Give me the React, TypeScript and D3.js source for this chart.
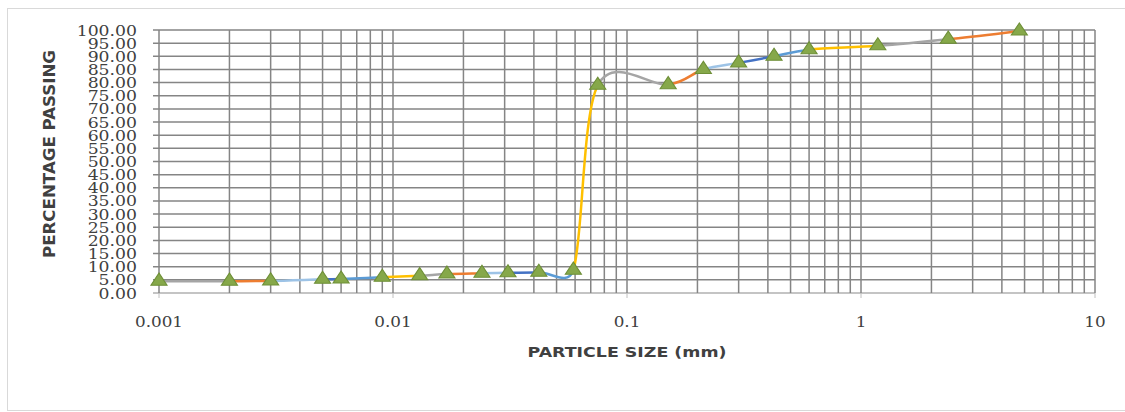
import React from "react";
import * as d3 from "d3";

const sizes = [0.001, 0.002, 0.003, 0.005, 0.006, 0.009, 0.013, 0.017, 0.024, 0.031, 0.042, 0.059, 0.075, 0.15, 0.212, 0.3, 0.425, 0.6, 1.18, 2.36, 4.75];
const passing = [4.5, 4.5, 4.6, 5.2, 5.3, 6.0, 6.6, 7.2, 7.5, 7.7, 7.9, 8.7, 79.0, 79.2, 85.0, 87.5, 90.0, 92.5, 94.0, 96.5, 99.6];
const yTicks = d3.range(0, 101, 5);
const xLabels = [0.001, 0.01, 0.1, 1, 10];
const palette = ["#ED7D31", "#A5A5A5", "#FFC000", "#5B9BD5", "#4472C4", "#9DC3E6"];

const W = 1125;
const H = 412;

type P = [number, number];

// Excel-like smoothed segment: cardinal tangents (1/6), limited to half the segment length
function smoothSegments(p: P[]): string[] {
  const n = p.length;
  const segs: string[] = [];
  const tangent = (i: number): P => {
    const a = p[Math.max(0, i - 1)];
    const b = p[Math.min(n - 1, i + 1)];
    return [(b[0] - a[0]) / 6, (b[1] - a[1]) / 6];
  };
  const limit = (t: P, len: number): P => {
    const l = Math.hypot(t[0], t[1]);
    const max = len / 2;
    if (l <= max || l === 0) return t;
    return [(t[0] * max) / l, (t[1] * max) / l];
  };
  for (let i = 0; i < n - 1; i++) {
    const a = p[i];
    const b = p[i + 1];
    const len = Math.hypot(b[0] - a[0], b[1] - a[1]);
    const t1 = limit(tangent(i), len);
    const t2 = limit(tangent(i + 1), len);
    const path = d3.path();
    path.moveTo(a[0], a[1]);
    path.bezierCurveTo(a[0] + t1[0], a[1] + t1[1], b[0] - t2[0], b[1] - t2[1], b[0], b[1]);
    segs.push(path.toString());
  }
  return segs;
}

export default function App() {
  const x = d3.scaleLog().domain([0.001, 10]).range([159, 1095]);
  const y = d3.scaleLinear().domain([0, 100]).range([293, 30]);
  const pix: P[] = sizes.map((s, i) => [x(s), y(passing[i])]);
  const segs = smoothSegments(pix);

  const vGrid: number[] = [];
  for (let e = -3; e < 1; e++) {
    for (let m = 1; m <= 9; m++) vGrid.push(m * Math.pow(10, e));
  }
  vGrid.push(10);

  const tri = d3.symbol().type(d3.symbolTriangle).size(85)() || "";
  const n = sizes.length;
  const fmt = d3.format(".2f");
  const gridColor = "#858585";
  const textColor = "#404040";

  return (
    <svg width={W} height={H} style={{ position: "absolute", left: 0, top: 0, display: "block", background: "#fff" }}>
      <rect x={7.5} y={8.5} width={1130} height={402} fill="#fff" stroke="#d9d9d9" />
      {yTicks.map((t) => (
        <line key={`h${t}`} x1={153} x2={x.range()[1]} y1={y(t)} y2={y(t)} stroke={t === 0 ? "#b0b0b0" : gridColor} strokeWidth={1.5} />
      ))}
      {vGrid.map((v, i) => (
        <line key={`v${i}`} x1={x(v)} x2={x(v)} y1={y(100)} y2={y(0)} stroke={gridColor} strokeWidth={1.5} />
      ))}
      {xLabels.map((v) => (
        <line key={`t${v}`} x1={x(v)} x2={x(v)} y1={y(0)} y2={y(0) + 5} stroke="#c0c0c0" strokeWidth={1} />
      ))}
      {yTicks.map((t) => (
        <text
          key={`yl${t}`}
          transform={`translate(137,${y(t) + 5.5}) scale(1.15,1)`}
          textAnchor="end"
          fontFamily="DejaVu Serif"
          fontSize={15}
          fill={textColor}
        >
          {fmt(t)}
        </text>
      ))}
      {xLabels.map((v) => (
        <text
          key={`xl${v}`}
          transform={`translate(${x(v)},327) scale(1.2,1)`}
          textAnchor="middle"
          fontFamily="DejaVu Serif"
          fontSize={14}
          fill={textColor}
        >
          {String(v)}
        </text>
      ))}
      <text
        x={627}
        y={357}
        textAnchor="middle"
        fontFamily="DejaVu Sans"
        fontWeight="bold"
        fontSize={13.5}
        fill={textColor}
        textLength={199}
        lengthAdjust="spacingAndGlyphs"
      >
        PARTICLE SIZE (mm)
      </text>
      <text
        transform="translate(55,154) scale(1.2,1) rotate(-90)"
        textAnchor="middle"
        fontFamily="DejaVu Sans"
        fontWeight="bold"
        fontSize={12.5}
        fill={textColor}
        textLength={208}
        lengthAdjust="spacingAndGlyphs"
      >
        PERCENTAGE PASSING
      </text>
      {segs.map((d, i) => (
        <path
          key={`s${i}`}
          d={d}
          fill="none"
          stroke={palette[(n - 2 - i) % palette.length]}
          strokeWidth={2.5}
          strokeLinecap="round"
        />
      ))}
      {sizes.map((s, i) => (
        <path
          key={`m${i}`}
          d={tri}
          transform={`translate(${x(s)},${y(passing[i])}) scale(1.15,1)`}
          fill="#86A84A"
          stroke="#6E8F37"
          strokeWidth={1}
        />
      ))}
    </svg>
  );
}
